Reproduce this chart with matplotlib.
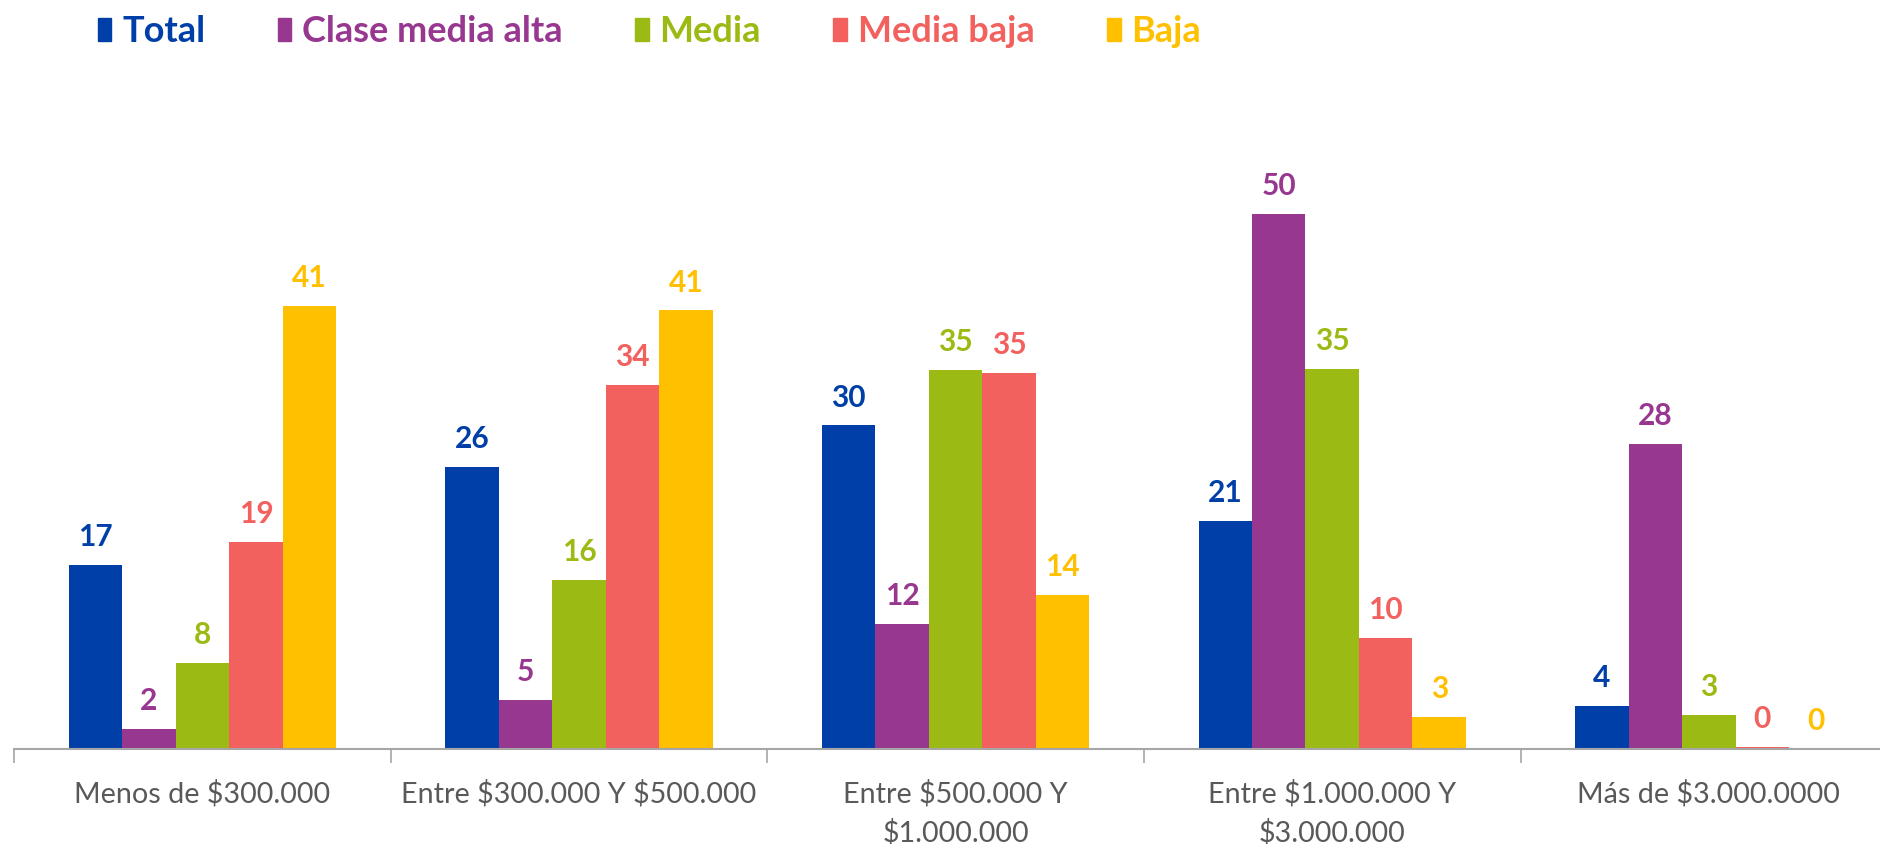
import numpy as np
from matplotlib import pyplot as plt
from matplotlib.patches import Patch

plt.rcParams['font.family'] = ['Lato', 'DejaVu Sans']
plt.rcParams['text.parse_math'] = False

categories = ["Menos de $300.000", "Entre $300.000 Y $500.000",
              "Entre $500.000 Y\n$1.000.000", "Entre $1.000.000 Y\n$3.000.000",
              "Más de $3.000.0000"]
series_names = ["Total", "Clase media alta", "Media", "Media baja", "Baja"]
total = [17.1, 26.2, 30.1, 21.2, 4.0]
media_alta = [1.9, 4.6, 11.6, 49.8, 28.4]
media = [8.0, 15.7, 35.3, 35.4, 3.2]
media_baja = [19.3, 33.9, 35.0, 10.3, 0.2]
baja = [41.2, 40.8, 14.3, 3.0, 0.0]
colors = ["#003FA8", "#983790", "#9BBB14", "#F2615E", "#FFC000"]

values = [total, media_alta, media, media_baja, baja]

fig = plt.figure(figsize=(18.8, 8.44), dpi=100)
ax = fig.add_axes([0.0075, 0.1126, 1.0016, 0.764])

x = np.arange(len(categories))
n = len(series_names)
w = 0.142
for i, (vals, col) in enumerate(zip(values, colors)):
    pos = x + (i - (n - 1) / 2) * w
    ax.bar(pos, vals, width=w, color=col)
    for p, v in zip(pos, vals):
        ax.text(p, v + 1.3, "{:.0f}".format(v), ha='center', va='bottom',
                color=col, fontsize=21.5, fontweight='bold')

ax.set_xlim(-0.5, len(categories) - 0.5)
ax.set_ylim(0, 60)
for s in ['top', 'right', 'left']:
    ax.spines[s].set_visible(False)
ax.spines['bottom'].set_color('#a6a6a6')
ax.spines['bottom'].set_linewidth(1.5)
ax.set_yticks([])

# category boundary ticks
ax.set_xticks(np.arange(len(categories) + 1) - 0.5, minor=False)
ax.set_xticklabels([])
ax.tick_params(axis='x', which='major', length=10, width=1.2, color='#a6a6a6')
ax.set_xticks(x, minor=True)
ax.set_xticklabels(categories, minor=True, fontsize=20.7, color='#595959',
                   linespacing=1.55)
ax.tick_params(axis='x', which='minor', length=0, pad=22)

handles = [Patch(color=c) for c in colors]
fig.legend(handles, series_names, loc='upper left', bbox_to_anchor=(0.052, 0.982),
           ncol=5, frameon=False, borderpad=0, borderaxespad=0,
           handlelength=0.38, handleheight=0.62,
           handletextpad=0.3, columnspacing=2.0,
           labelcolor=colors, prop={'weight': 'bold', 'size': 26})

fig.savefig("out.png", dpi=100)
